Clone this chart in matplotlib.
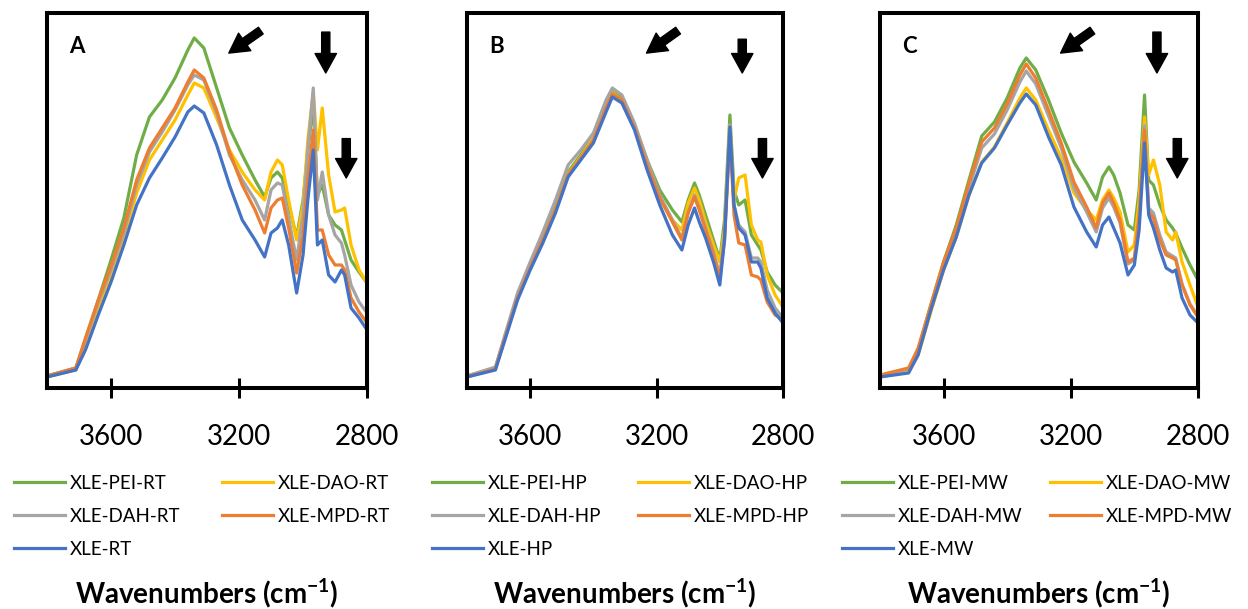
import matplotlib.pyplot as plt

plt.rcParams['font.family'] = 'Lato'
plt.rcParams['mathtext.fontset'] = 'custom'
plt.rcParams['mathtext.rm'] = 'Lato'
plt.rcParams['mathtext.bf'] = 'Lato:bold'

# wavenumber grid (cm-1), shared by every spectrum
wn = [3800, 3710, 3680, 3640, 3600, 3560, 3520, 3480, 3440, 3400, 3360, 3340,
      3310, 3270, 3230, 3190, 3150, 3120, 3100, 3080, 3065, 3045, 3020, 3000,
      2985, 2968, 2955, 2940, 2920, 2900, 2880, 2870, 2850, 2825, 2800]

# absorbance, arbitrary units
rt_pei = [12, 20, 48, 88, 128, 170, 233, 271, 288, 310, 338, 350, 340, 300, 260, 233, 208, 191,
          210, 216, 210, 183, 151, 188, 238, 283, 193, 203, 173, 163, 158, 148, 128, 116, 105]
rt_dao = [11, 18, 43, 80, 113, 150, 195, 228, 248, 268, 293, 305, 300, 270, 238, 216, 198, 188,
          216, 228, 223, 188, 148, 183, 248, 296, 238, 280, 213, 176, 178, 180, 143, 118, 105]
rt_dah = [12, 20, 48, 85, 118, 155, 203, 236, 256, 278, 303, 313, 308, 275, 233, 208, 188, 168,
          198, 205, 203, 170, 128, 173, 238, 300, 188, 216, 173, 153, 145, 133, 103, 86, 75]
rt_mpd = [12, 20, 50, 88, 122, 160, 208, 240, 260, 280, 306, 318, 310, 278, 236, 203, 178, 155,
          180, 188, 190, 160, 115, 153, 208, 258, 158, 158, 133, 123, 123, 118, 90, 76, 65]
rt_xle = [11, 18, 38, 73, 106, 143, 183, 210, 230, 251, 276, 282, 275, 243, 203, 168, 148, 131,
          155, 160, 168, 143, 95, 133, 188, 238, 143, 148, 113, 106, 118, 113, 80, 70, 58]

hp_pei = [12, 20, 51, 92, 123, 151, 181, 216, 233, 251, 282, 296, 290, 263, 228, 198, 178, 166,
          188, 205, 193, 173, 148, 128, 168, 273, 198, 183, 188, 153, 143, 138, 116, 103, 95]
hp_dao = [12, 20, 50, 90, 120, 148, 178, 214, 231, 250, 282, 295, 288, 261, 223, 190, 168, 158,
          185, 200, 188, 166, 143, 126, 158, 263, 188, 210, 213, 163, 148, 146, 113, 93, 81]
hp_dah = [12, 21, 53, 95, 126, 156, 188, 223, 238, 255, 288, 300, 293, 265, 228, 193, 168, 150,
          176, 193, 180, 160, 136, 113, 153, 263, 183, 163, 156, 130, 130, 126, 98, 80, 70]
hp_mpd = [11, 19, 50, 90, 120, 148, 178, 213, 230, 248, 280, 294, 288, 260, 223, 190, 166, 148,
          175, 191, 178, 158, 133, 110, 148, 253, 173, 145, 143, 113, 111, 108, 86, 73, 68]
hp_xle = [11, 18, 48, 88, 118, 145, 175, 211, 228, 245, 276, 291, 285, 258, 218, 183, 153, 138,
          163, 180, 166, 150, 126, 103, 148, 261, 183, 160, 153, 126, 126, 120, 90, 75, 65]

mw_pei = [12, 18, 38, 83, 126, 163, 208, 252, 266, 290, 320, 330, 318, 288, 255, 226, 205, 188,
          211, 221, 213, 195, 163, 158, 198, 293, 208, 203, 183, 168, 160, 155, 140, 123, 108]
mw_dao = [11, 16, 33, 76, 118, 151, 193, 226, 241, 265, 290, 300, 288, 258, 230, 195, 178, 168,
          188, 198, 190, 176, 136, 143, 188, 271, 213, 228, 203, 156, 148, 156, 126, 103, 81]
mw_dah = [12, 19, 37, 80, 122, 156, 200, 240, 254, 278, 306, 317, 304, 272, 240, 200, 176, 156,
          180, 190, 181, 165, 124, 128, 170, 262, 180, 175, 153, 136, 132, 130, 104, 84, 72]
mw_mpd = [13, 20, 40, 83, 126, 160, 205, 246, 260, 284, 313, 324, 310, 278, 245, 206, 181, 160,
          185, 195, 185, 168, 126, 130, 173, 258, 176, 170, 148, 133, 130, 128, 103, 83, 71]
mw_xle = [11, 15, 33, 78, 118, 151, 193, 225, 240, 263, 285, 294, 283, 251, 223, 181, 156, 141,
          163, 171, 160, 145, 113, 123, 158, 245, 173, 160, 138, 120, 116, 118, 90, 73, 65]

panel_letters = ['A', 'B', 'C']
conditions = ['RT', 'HP', 'MW']
amines = ['XLE-PEI', 'XLE-DAO', 'XLE-DAH', 'XLE-MPD', 'XLE']
colors = ['#70AD47', '#FFC000', '#A5A5A5', '#ED7D31', '#4472C4']
spectra = [[rt_pei, rt_dao, rt_dah, rt_mpd, rt_xle],
           [hp_pei, hp_dao, hp_dah, hp_mpd, hp_xle],
           [mw_pei, mw_dao, mw_dah, mw_mpd, mw_xle]]
xticks = [3600, 3200, 2800]

# axes rectangles in figure fraction
boxes = [[0.0377, 0.3629, 0.2564, 0.6158],
         [0.3742, 0.3629, 0.2532, 0.6158],
         [0.7051, 0.3629, 0.2548, 0.6158]]
# legend column starts (figure fraction), two columns per panel
legend_cols = [(0.0112, 0.1779), (0.3462, 0.5112), (0.6747, 0.8413)]
down1_top = [0.949, 0.93, 0.949]

fig = plt.figure(figsize=(12.48, 6.09), dpi=100)

for p in range(3):
    ax = fig.add_axes(boxes[p])
    lines = []
    for s in range(5):
        ln, = ax.plot(wn, spectra[p][s], color=colors[s], lw=2.3,
                      label=amines[s] + '-' + conditions[p])
        lines.append(ln)

    ax.set_xlim(3800, 2800)
    ax.set_ylim(0, 375)
    ax.set_xticks(xticks)
    ax.set_xticklabels([str(t) for t in xticks], fontsize=20)
    ax.set_yticks([])
    ax.tick_params(axis='x', direction='inout', length=14, width=2.2, pad=19)
    for sp in ax.spines.values():
        sp.set_linewidth(2.9)

    ax.text(0.07, 0.91, panel_letters[p], transform=ax.transAxes,
            fontsize=16, fontweight='bold', ha='left', va='center')

    # arrows marking the bands
    arrow = dict(arrowstyle='simple,head_width=1.1,head_length=1.0,tail_width=0.42',
                 color='black', mutation_scale=14, shrinkA=0, shrinkB=0)
    ax.annotate('', xy=(0.568, 0.893), xytext=(0.668, 0.953),
                xycoords='axes fraction', arrowprops=arrow)
    ax.annotate('', xy=(0.871, 0.840), xytext=(0.871, down1_top[p]),
                xycoords='axes fraction', arrowprops=arrow)
    ax.annotate('', xy=(0.935, 0.560), xytext=(0.935, 0.665),
                xycoords='axes fraction', arrowprops=arrow)

    # Excel-style legend: PEI / DAH / XLE in the first column, DAO / MPD in the second
    for col, idx in enumerate([[0, 2, 4], [1, 3]]):
        fig.legend([lines[i] for i in idx], [lines[i].get_label() for i in idx],
                   loc='upper left', bbox_to_anchor=(legend_cols[p][col], 0.220),
                   frameon=False, fontsize=13.5, handlelength=2.7, handletextpad=0.3,
                   labelspacing=0.85, borderpad=0, borderaxespad=0)

    cx = boxes[p][0] + boxes[p][2] / 2
    fig.text(cx, 0.027, r'Wavenumbers (cm$^{\mathbf{-1}}$)', fontsize=20,
             fontweight='bold', ha='center', va='center')

fig.savefig('out.png', dpi=100)
